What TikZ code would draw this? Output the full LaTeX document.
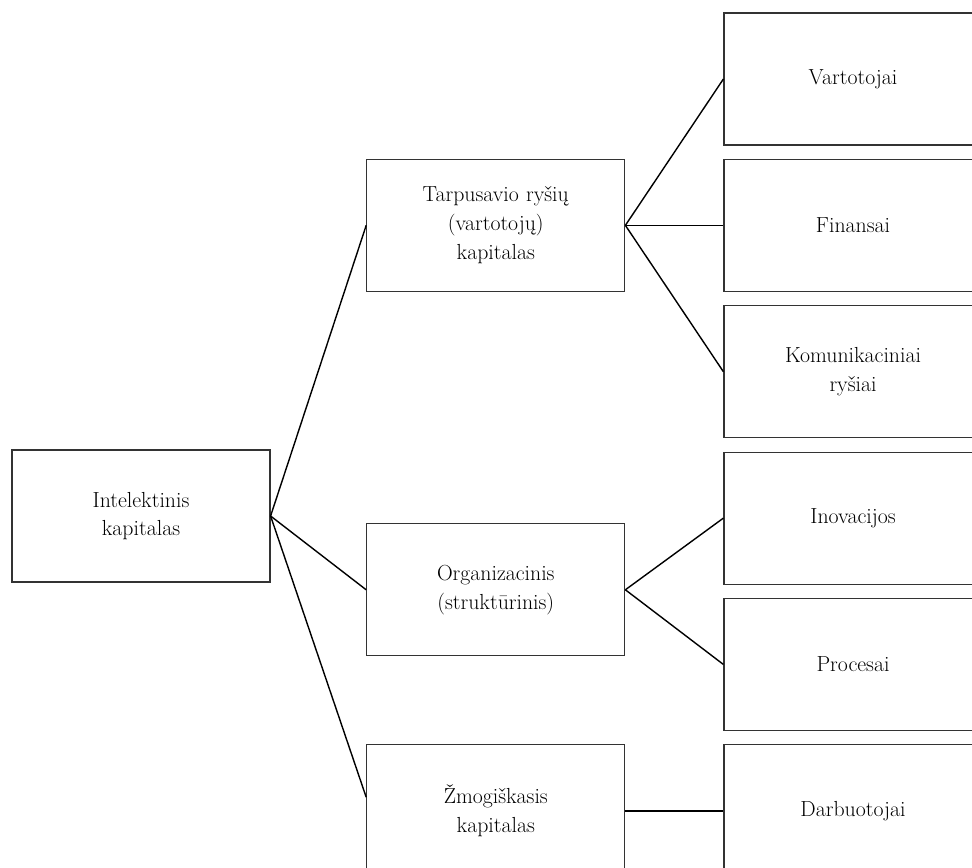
\documentclass[tikz,border=0pt]{standalone}
\usepackage{fontspec}
\usepackage{tikz}
\usetikzlibrary{positioning}

\begin{document}
\begin{tikzpicture}[
  x=0.025cm, y=-0.025cm,
  box/.style={rectangle, draw=black!80, line width=0.8pt,
              text width=6cm, align=center,
              minimum width=6.45cm, minimum height=3.3cm,
              font=\fontsize{15.5}{20.5}\selectfont},
  link/.style={line width=1pt}
]
  \useasboundingbox (0,0) rectangle (972,867);
  \clip (0,0) rectangle (972,867);
  % right column
  \node[box] (vart) at (853,79) {Vartotojai};
  \node[box, below=0.33cm of vart] (fin) {Finansai};
  \node[box, below=0.33cm of fin] (kom) {Komunikaciniai\\ ryšiai};
  \node[box, below=0.33cm of kom] (ino) {Inovacijos};
  \node[box, below=0.33cm of ino] (proc) {Procesai};
  \node[box, below=0.33cm of proc] (darb) {Darbuotojai};
  % middle column
  \node[box, left=2.45cm of fin] (tarp) {
    Tarpusavio ryšių\\
    (vartotojų)\\
    kapitalas
  };
  \node[box, below=5.78cm of tarp] (org) {
    Organizacinis\\
    (struktūrinis)
  };
  \node[box, left=2.45cm of darb] (zmog) {
    Žmogiškasis\\
    kapitalas
  };
  % root
  \node[box] (root) at (141,516) {
    Intelektinis\\
    kapitalas
  };
  \draw[link] (root.east) -- (tarp.west);
  \draw[link] (root.east) -- (org.west);
  \draw[link] (root.east) -- (zmog.174);
  \draw[link] (tarp.east) -- (vart.west);
  \draw[link] (tarp.east) -- (fin.west);
  \draw[link] (tarp.east) -- (kom.west);
  \draw[link] (org.east) -- (ino.west);
  \draw[link] (org.east) -- (proc.west);
  \draw[link] (zmog.east) -- (darb.west);
\end{tikzpicture}
\end{document}
